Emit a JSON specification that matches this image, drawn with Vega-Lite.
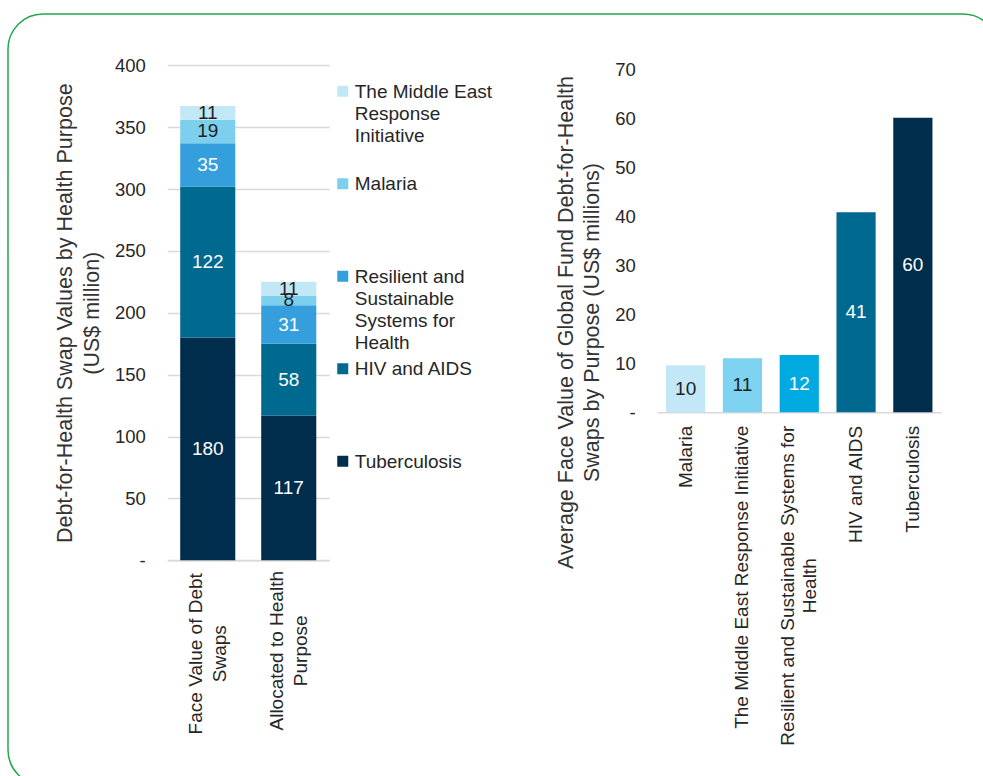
{
  "$schema": "https://vega.github.io/schema/vega-lite/v6.json",
  "padding": {"left": 8, "top": 14, "right": 0, "bottom": 0},
  "width": 990,
  "height": 771,
  "view": {"stroke": "#22a84f", "strokeWidth": 1.5, "cornerRadius": 35, "fill": null},
  "config": {
    "font": "Liberation Sans",
    "axis": {
      "labelFont": "Liberation Sans", "labelFontSize": 18.5, "labelColor": "#262626", "labelLimit": 500,
      "titleFont": "Liberation Sans", "titleFontSize": 21.5, "titleFontWeight": "normal", "titleColor": "#333333",
      "gridColor": "#d9d9d9", "gridWidth": 1.5, "domainColor": "#d9d9d9", "domainWidth": 1.5, "ticks": false
    },
    "axisY": {"domain": false, "labelPadding": 22},
    "axisX": {"grid": false, "labelAngle": -90, "labelFontSize": 19},
    "text": {"font": "Liberation Sans", "fontSize": 19}
  },
  "datasets": {
    "left": [
      {"bar": "Face Value of Debt Swaps", "purpose": "Tuberculosis", "value": 180},
      {"bar": "Face Value of Debt Swaps", "purpose": "HIV and AIDS", "value": 122},
      {"bar": "Face Value of Debt Swaps", "purpose": "Resilient and Sustainable Systems for Health", "value": 35},
      {"bar": "Face Value of Debt Swaps", "purpose": "Malaria", "value": 19},
      {"bar": "Face Value of Debt Swaps", "purpose": "The Middle East Response Initiative", "value": 11},
      {"bar": "Allocated to Health Purpose", "purpose": "Tuberculosis", "value": 117},
      {"bar": "Allocated to Health Purpose", "purpose": "HIV and AIDS", "value": 58},
      {"bar": "Allocated to Health Purpose", "purpose": "Resilient and Sustainable Systems for Health", "value": 31},
      {"bar": "Allocated to Health Purpose", "purpose": "Malaria", "value": 8},
      {"bar": "Allocated to Health Purpose", "purpose": "The Middle East Response Initiative", "value": 11}
    ],
    "legend": [
      {"purpose": "The Middle East Response Initiative", "label": "The Middle East\nResponse\nInitiative"},
      {"purpose": "Malaria", "label": "Malaria"},
      {"purpose": "Resilient and Sustainable Systems for Health", "label": "Resilient and\nSustainable\nSystems for\nHealth"},
      {"purpose": "HIV and AIDS", "label": "HIV and AIDS"},
      {"purpose": "Tuberculosis", "label": "Tuberculosis"}
    ],
    "right": [
      {"purpose": "Malaria", "value": 9.6},
      {"purpose": "The Middle East Response Initiative", "value": 11.0},
      {"purpose": "Resilient and Sustainable Systems for Health", "value": 11.7},
      {"purpose": "HIV and AIDS", "value": 40.8},
      {"purpose": "Tuberculosis", "value": 60.1}
    ]
  },
  "resolve": {
    "scale": {"x": "independent", "y": "independent", "color": "independent"},
    "axis": {"x": "independent", "y": "independent"}
  },
  "layer": [
    {
      "data": {"name": "left"},
      "transform": [
        {"window": [{"op": "row_number", "as": "stack_rank"}], "groupby": ["bar"]}
      ],
      "encoding": {
        "x": {
          "field": "bar", "type": "nominal",
          "sort": ["Face Value of Debt Swaps", "Allocated to Health Purpose"],
          "scale": {"range": [159.25, 321.25], "paddingInner": 0.32, "paddingOuter": 0.16},
          "axis": {
            "orient": "bottom", "offset": -224.75,
            "title": null, "labelLineHeight": 24,
            "labelAlign": "center", "labelOffset": -12,
            "labelPadding": {"condition": {"test": "datum.value == 'Face Value of Debt Swaps'", "value": 93}, "value": 90},
            "labelExpr": "datum.label == 'Face Value of Debt Swaps' ? ['Face Value of Debt', 'Swaps'] : datum.label == 'Allocated to Health Purpose' ? ['Allocated to Health', 'Purpose'] : datum.label"
          }
        },
        "y": {
          "field": "value", "type": "quantitative", "stack": "zero",
          "scale": {"domain": [0, 400], "range": [546.25, 51.25]},
          "axis": {
            "orient": "left", "offset": -159.25,
            "values": [0, 50, 100, 150, 200, 250, 300, 350, 400],
            "labelExpr": "datum.value == 0 ? '-' : datum.label",
            "title": ["Debt-for-Health Swap Values by  Health Purpose", "(US$ million)"],
            "titleLineHeight": 27, "titlePadding": 11
          }
        },
        "order": {"field": "stack_rank", "type": "quantitative"}
      },
      "layer": [
        {
          "mark": {"type": "bar"},
          "encoding": {
            "color": {
              "field": "purpose", "type": "nominal", "legend": null,
              "scale": {
                "domain": ["Tuberculosis", "HIV and AIDS", "Resilient and Sustainable Systems for Health", "Malaria", "The Middle East Response Initiative"],
                "range": ["#002d4c", "#00698f", "#349fdc", "#7dcfee", "#c2e7f6"]
              }
            }
          }
        },
        {
          "mark": {"type": "text", "align": "center", "baseline": "middle"},
          "encoding": {
            "y": {"field": "value", "type": "quantitative", "stack": "zero", "bandPosition": 0.5},
            "text": {"field": "value", "type": "quantitative"},
            "color": {
              "field": "purpose", "type": "nominal", "legend": null,
              "scale": {
                "domain": ["Tuberculosis", "HIV and AIDS", "Resilient and Sustainable Systems for Health", "Malaria", "The Middle East Response Initiative"],
                "range": ["#ffffff", "#ffffff", "#ffffff", "#1f1f1f", "#1f1f1f"]
              }
            }
          }
        }
      ],
      "resolve": {"scale": {"color": "independent"}}
    },
    {
      "data": {"name": "legend"},
      "encoding": {
        "y": {
          "field": "purpose", "type": "nominal",
          "sort": ["The Middle East Response Initiative", "Malaria", "Resilient and Sustainable Systems for Health", "HIV and AIDS", "Tuberculosis"],
          "scale": {"type": "point", "padding": 0, "range": [77.25, 447.25]},
          "axis": null
        },
        "x": {"datum": 0, "type": "quantitative", "scale": {"domain": [0, 1], "range": [334.75, 540]}, "axis": null}
      },
      "layer": [
        {
          "mark": {"type": "square", "size": 121, "opacity": 1},
          "encoding": {
            "color": {
              "field": "purpose", "type": "nominal", "legend": null,
              "scale": {
                "domain": ["Tuberculosis", "HIV and AIDS", "Resilient and Sustainable Systems for Health", "Malaria", "The Middle East Response Initiative"],
                "range": ["#002d4c", "#00698f", "#349fdc", "#7dcfee", "#c2e7f6"]
              }
            }
          }
        },
        {
          "mark": {"type": "text", "align": "left", "baseline": "alphabetic", "dx": 12, "dy": 6.5, "lineBreak": "\n", "lineHeight": 22, "fontSize": 19, "color": "#262626"},
          "encoding": {"text": {"field": "label"}}
        }
      ]
    },
    {
      "data": {"name": "right"},
      "encoding": {
        "x": {
          "field": "purpose", "type": "nominal",
          "sort": ["Malaria", "The Middle East Response Initiative", "Resilient and Sustainable Systems for Health", "HIV and AIDS", "Tuberculosis"],
          "scale": {"range": [649.25, 933.25], "paddingInner": 0.31, "paddingOuter": 0.155},
          "axis": {
            "orient": "bottom", "offset": -372.75,
            "title": null, "labelLineHeight": 22,
            "labelAlign": {"condition": {"test": "datum.value == 'Resilient and Sustainable Systems for Health'", "value": "center"}, "value": "right"},
            "labelPadding": {"condition": {"test": "datum.value == 'Resilient and Sustainable Systems for Health'", "value": 173}, "value": 13},
            "labelOffset": {"condition": {"test": "datum.value == 'Resilient and Sustainable Systems for Health'", "value": -11}, "value": 0},
            "labelExpr": "datum.label == 'Resilient and Sustainable Systems for Health' ? ['Resilient and Sustainable Systems for', 'Health'] : datum.label"
          }
        },
        "y": {
          "field": "value", "type": "quantitative",
          "scale": {"domain": [0, 70], "range": [398.25, 55.25]},
          "axis": {
            "orient": "left", "offset": -649.25,
            "values": [0, 10, 20, 30, 40, 50, 60, 70],
            "labelExpr": "datum.value == 0 ? '-' : datum.label",
            "title": ["Average Face Value of Global Fund Debt-for-Health", "Swaps by Purpose (US$ millions)"],
            "titleLineHeight": 26, "titlePadding": 11, "titleY": 308
          }
        }
      },
      "layer": [
        {
          "mark": {"type": "bar"},
          "encoding": {
            "color": {
              "field": "purpose", "type": "nominal", "legend": null,
              "scale": {
                "domain": ["Malaria", "The Middle East Response Initiative", "Resilient and Sustainable Systems for Health", "HIV and AIDS", "Tuberculosis"],
                "range": ["#c2e7f6", "#7dd3f0", "#00a9e0", "#00698f", "#002d4c"]
              }
            }
          }
        },
        {
          "mark": {"type": "text", "align": "center", "baseline": "middle"},
          "encoding": {
            "y": {"field": "value", "type": "quantitative", "stack": "zero", "bandPosition": 0.5},
            "detail": {"field": "purpose"},
            "text": {"field": "value", "type": "quantitative", "format": ".0f"},
            "color": {
              "field": "purpose", "type": "nominal", "legend": null,
              "scale": {
                "domain": ["Malaria", "The Middle East Response Initiative", "Resilient and Sustainable Systems for Health", "HIV and AIDS", "Tuberculosis"],
                "range": ["#1f1f1f", "#1f1f1f", "#ffffff", "#ffffff", "#ffffff"]
              }
            }
          }
        }
      ],
      "resolve": {"scale": {"color": "independent"}}
    }
  ]
}
